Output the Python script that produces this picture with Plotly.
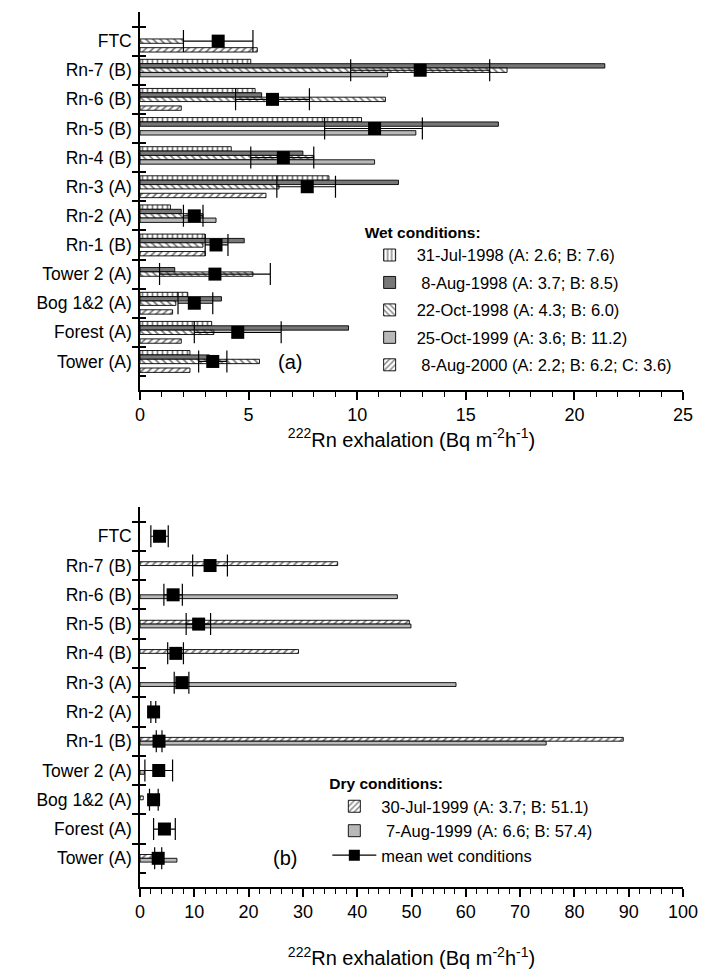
import plotly.graph_objects as go

categories = ["FTC", "Rn-7 (B)", "Rn-6 (B)", "Rn-5 (B)", "Rn-4 (B)", "Rn-3 (A)",
              "Rn-2 (A)", "Rn-1 (B)", "Tower 2 (A)", "Bog 1&2 (A)", "Forest (A)", "Tower (A)"]

# wet conditions (panel a)
wet_names = ["31-Jul-1998 (A: 2.6; B: 7.6)", " 8-Aug-1998 (A: 3.7; B: 8.5)",
             "22-Oct-1998 (A: 4.3; B: 6.0)", "25-Oct-1999 (A: 3.6; B: 11.2)",
             " 8-Aug-2000 (A: 2.2; B: 6.2; C: 3.6)"]
jul98 = [None, 5.1, 5.3, 10.2, 4.2, 8.7, 1.4, 3.0, None, 2.2, 3.3, 2.3]
aug98 = [None, 21.4, 5.6, 16.5, 7.5, 11.9, 1.9, 4.8, 1.6, 3.75, 9.6, 3.2]
oct98 = [2.0, 16.9, 11.3, None, 8.0, 6.4, 2.9, 2.9, 5.2, 1.65, 3.4, 5.5]
oct99 = [None, 11.4, None, 12.7, 10.8, None, 3.5, None, None, None, None, None]
aug00 = [5.4, None, 1.9, None, None, 5.8, None, 3.0, None, 1.5, 1.9, 2.3]

# dry conditions (panel b)
dry_names = ["30-Jul-1999 (A: 3.7; B: 51.1)", " 7-Aug-1999 (A: 6.6; B: 57.4)"]
jul99 = [None, 36.4, None, 49.6, 29.2, None, None, 89.0, None, 0.6, None, 3.7]
aug99 = [None, None, 47.4, 49.9, None, 58.2, None, 74.8, 0.8, None, None, 6.8]

# mean wet conditions with error range
mean_wet = [3.6, 12.9, 6.1, 10.8, 6.6, 7.7, 2.5, 3.5, 3.45, 2.5, 4.5, 3.35]
err_lo = [2.0, 9.7, 4.4, 8.5, 5.1, 6.3, 2.0, 3.0, 0.9, 1.75, 2.5, 2.7]
err_hi = [5.2, 16.1, 7.8, 13.0, 8.0, 9.0, 2.9, 4.05, 6.0, 3.35, 6.5, 4.0]

FONT = "Liberation Sans, Arial, sans-serif"
plus = [h - m for h, m in zip(err_hi, mean_wet)]
minus = [m - l for m, l in zip(mean_wet, err_lo)]

fig = go.Figure()


def hatch(shape):
    return dict(color="white", pattern=dict(shape=shape, fgcolor="black", bgcolor="white",
                                            size=5, solidity=0.35))


wet_styles = [hatch("|"), dict(color="#777777"), hatch("\\"), dict(color="#b8b8b8"), hatch("/")]
wet_vals = [jul98, aug98, oct98, oct99, aug00]
bw = 0.15
for k, (nm, vals, st) in enumerate(zip(wet_names, wet_vals, wet_styles)):
    fig.add_trace(go.Bar(
        y=categories, x=vals, orientation="h", name=nm,
        width=bw, offset=-2.5 * bw + k * bw,
        marker=dict(line=dict(color="black", width=0.9), **st),
        xaxis="x", yaxis="y", legend="legend", legendgroup="w%d" % k,
    ))

fig.add_trace(go.Scatter(
    y=categories, x=mean_wet, mode="markers", showlegend=False,
    marker=dict(symbol="square", size=13, color="black"),
    error_x=dict(type="data", symmetric=False, array=plus, arrayminus=minus,
                 color="black", thickness=1.2, width=11),
    xaxis="x", yaxis="y",
))

dry_styles = [hatch("/"), dict(color="#b8b8b8")]
bw2 = 0.13
for k, (nm, vals, st) in enumerate(zip(dry_names, [jul99, aug99], dry_styles)):
    fig.add_trace(go.Bar(
        y=categories, x=vals, orientation="h", name=nm,
        width=bw2, offset=-bw2 + k * bw2,
        marker=dict(line=dict(color="black", width=0.9), **st),
        xaxis="x2", yaxis="y2", legend="legend2", legendgroup="d%d" % k,
    ))

fig.add_trace(go.Scatter(
    y=categories, x=mean_wet, mode="markers", showlegend=False,
    marker=dict(symbol="square", size=13, color="black"),
    error_x=dict(type="data", symmetric=False, array=plus, arrayminus=minus,
                 color="black", thickness=1.2, width=11),
    xaxis="x2", yaxis="y2",
))
# legend-only entry for the mean symbol
fig.add_trace(go.Scatter(
    x=[None], y=[None], mode="lines+markers", name="mean wet conditions",
    marker=dict(symbol="square", size=11, color="black"),
    line=dict(color="black", width=1.2),
    xaxis="x2", yaxis="y2", legend="legend2", legendgroup="d9",
))
# empty traces so the overlay tick axes are drawn
fig.add_trace(go.Scatter(x=[None], y=[None], xaxis="x", yaxis="y3", showlegend=False))
fig.add_trace(go.Scatter(x=[None], y=[None], xaxis="x2", yaxis="y4", showlegend=False))

ytitle = "<sup>222</sup>Rn exhalation (Bq m<sup>-2</sup>h<sup>-1</sup>)"
top_dom = [0.568, 1.0]
bot_dom = [0.0, 0.4343]
yr = [11.98, -1.0]
half = [i - 0.5 for i in range(len(categories) + 1)]

common_y = dict(type="category", categoryorder="array", categoryarray=categories,
                range=yr, showline=True, linecolor="black", linewidth=1.5,
                ticks="outside", tickson="boundaries", ticklen=6, tickwidth=1.5,
                tickcolor="black", showgrid=False, zeroline=False, ticklabelstandoff=3,
                tickfont=dict(size=17.5, color="black", family=FONT))
inner_y = dict(type="linear", range=yr, showline=False, ticks="inside", tickmode="array",
               tickvals=half, ticklen=6, tickwidth=1.5, tickcolor="black",
               showticklabels=False, showgrid=False, zeroline=False)

fig.update_layout(
    width=709, height=968,
    paper_bgcolor="white", plot_bgcolor="white",
    margin=dict(l=132, r=34, t=4, b=89),
    barmode="overlay",
    font=dict(family=FONT, color="black"),
    xaxis=dict(domain=[0, 1], anchor="y", range=[0, 25], showline=True, linecolor="black",
               linewidth=1.5, ticks="outside", tickvals=[0, 5, 10, 15, 20, 25], ticklen=8,
               tickwidth=1.5, tickcolor="black",
               minor=dict(dtick=1, ticks="outside", ticklen=5, tickwidth=1.2, tickcolor="black"),
               showgrid=False, zeroline=False,
               tickfont=dict(size=18, color="black", family=FONT),
               title=dict(text=ytitle, font=dict(size=20, family=FONT, color="black"), standoff=6)),
    yaxis=dict(domain=top_dom, anchor="x", **common_y),
    xaxis2=dict(domain=[0, 1], anchor="y2", range=[0, 100], showline=True, linecolor="black",
                linewidth=1.5, ticks="outside", tickvals=list(range(0, 101, 10)), ticklen=8,
                tickwidth=1.5, tickcolor="black",
                minor=dict(dtick=2, ticks="outside", ticklen=5, tickwidth=1.2, tickcolor="black"),
                showgrid=False, zeroline=False,
                tickfont=dict(size=18, color="black", family=FONT),
                title=dict(text=ytitle, font=dict(size=20, family=FONT, color="black"), standoff=30)),
    yaxis2=dict(domain=bot_dom, anchor="x2", **common_y),
    yaxis3=dict(overlaying="y", anchor="x", **inner_y),
    yaxis4=dict(overlaying="y2", anchor="x2", **inner_y),
    legend=dict(x=0.41, y=0.765, xanchor="left", yanchor="top", bgcolor="rgba(0,0,0,0)",
                title=dict(text="<b>Wet conditions:</b>", font=dict(size=15.5, family=FONT)),
                font=dict(size=16.5, family=FONT, color="black"), tracegroupgap=3,
                traceorder="grouped", itemwidth=44),
    legend2=dict(x=0.345, y=0.135, xanchor="left", yanchor="top", bgcolor="rgba(0,0,0,0)",
                 title=dict(text="<b>Dry conditions:</b>", font=dict(size=15.5, family=FONT)),
                 font=dict(size=16.5, family=FONT, color="black"), tracegroupgap=0,
                 traceorder="grouped", itemwidth=44),
    annotations=[
        dict(text="(a)", x=0.276, y=0.60, xref="paper", yref="paper", showarrow=False,
             xanchor="center", yanchor="middle",
             font=dict(size=20, family=FONT, color="black")),
        dict(text="(b)", x=0.267, y=0.033, xref="paper", yref="paper", showarrow=False,
             xanchor="center", yanchor="middle",
             font=dict(size=20, family=FONT, color="black")),
    ],
)

fig.write_html("out.html")
